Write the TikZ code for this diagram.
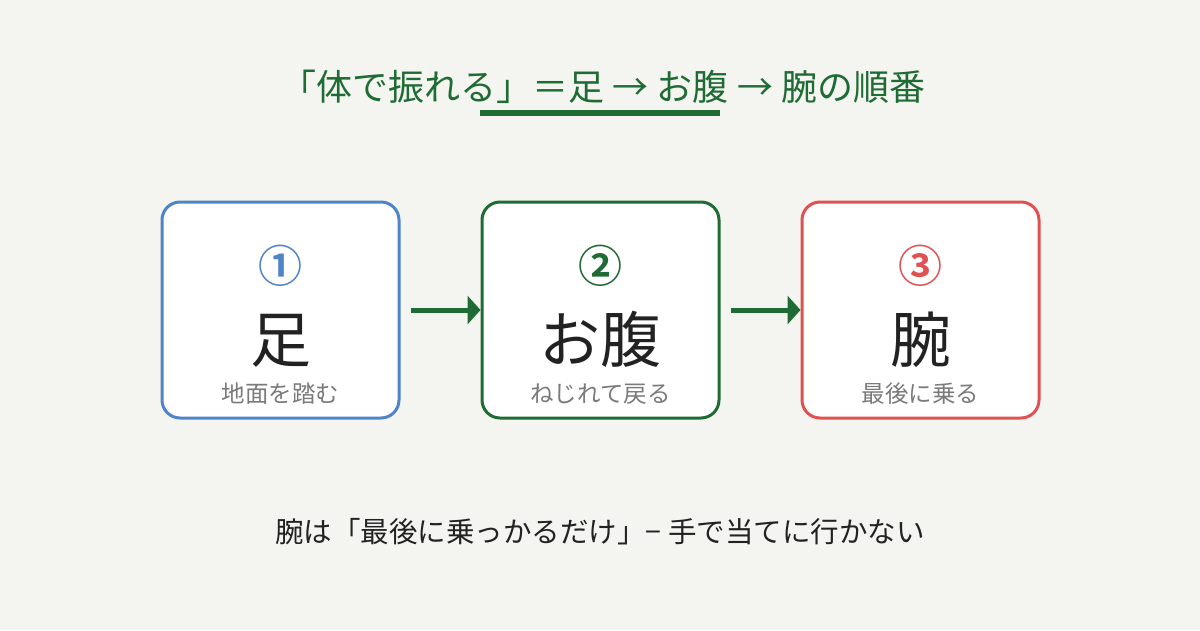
\documentclass[tikz,border=0pt]{standalone}
\usepackage{fontspec}
\setmainfont{Noto Sans CJK JP}
\newfontfamily\jpbold{Noto Sans CJK JP Bold}
\usetikzlibrary{arrows.meta,positioning}

\definecolor{bgpaper}{HTML}{F4F5F0}
\definecolor{stepblue}{HTML}{4F84C8}
\definecolor{stepgreen}{HTML}{1E6B34}
\definecolor{stepred}{HTML}{E05252}
\definecolor{inkdark}{HTML}{222222}
\definecolor{inkgray}{HTML}{7A7A7A}

\begin{document}
\begin{tikzpicture}[x=1pt, y=-1pt,
  stepbox/.style={draw=#1, line width=3pt, rounded corners=18pt, fill=white,
    minimum width=237pt, minimum height=216pt, inner sep=0pt},
  num/.style={anchor=base, text=#1, font=\jpbold\fontsize{44}{44}\selectfont, inner sep=0pt},
  bigword/.style={anchor=base, text=inkdark, font=\fontsize{61}{61}\selectfont, inner sep=0pt},
  subword/.style={anchor=base, text=inkgray, font=\fontsize{23.5}{23.5}\selectfont, inner sep=0pt},
  arr/.style={-{Triangle[length=13pt,width=28pt]}, line width=5pt, draw=stepgreen}
]
\useasboundingbox[fill=bgpaper] (0,0) rectangle (1200,630);

% title
\node[anchor=base, text=stepgreen, font=\fontsize{36}{36}\selectfont, inner sep=0pt]
  (title) at (603,100) {「体で振れる」＝足 → お腹 → 腕の順番};
\fill[stepgreen] (480,110) rectangle (720,116);

% steps
\node[stepbox=stepblue]  (foot) at (280.5,310) {};
\node[stepbox=stepgreen] (belly) at (600.5,310) {};
\node[stepbox=stepred]   (arm) at (920.5,310) {};

\node[num=stepblue]  (n1) at (280.5,282) {①};
\node[num=stepgreen] (n2) at (600.5,282) {②};
\node[num=stepred]   (n3) at (920.5,282) {③};

\node[bigword] (w1) at (280.5,362) {足};
\node[bigword] (w2) at (600.5,362) {お腹};
\node[bigword] (w3) at (920.5,362) {腕};

\node[subword] (s1) at (280.5,402) {地面を踏む};
\node[subword] (s2) at (600.5,402) {ねじれて戻る};
\node[subword] (s3) at (920.5,402) {最後に乗る};

% connectors
\draw[arr] ([xshift=10pt]foot.east) -- (belly.west);
\draw[arr] ([xshift=10pt]belly.east) -- (arm.west);

% note
\node[anchor=base, text=inkdark, font=\fontsize{28.5}{28.5}\selectfont, inner sep=0pt]
  (note) at (600,542) {腕は「最後に乗っかるだけ」− 手で当てに行かない};
\end{tikzpicture}
\end{document}
